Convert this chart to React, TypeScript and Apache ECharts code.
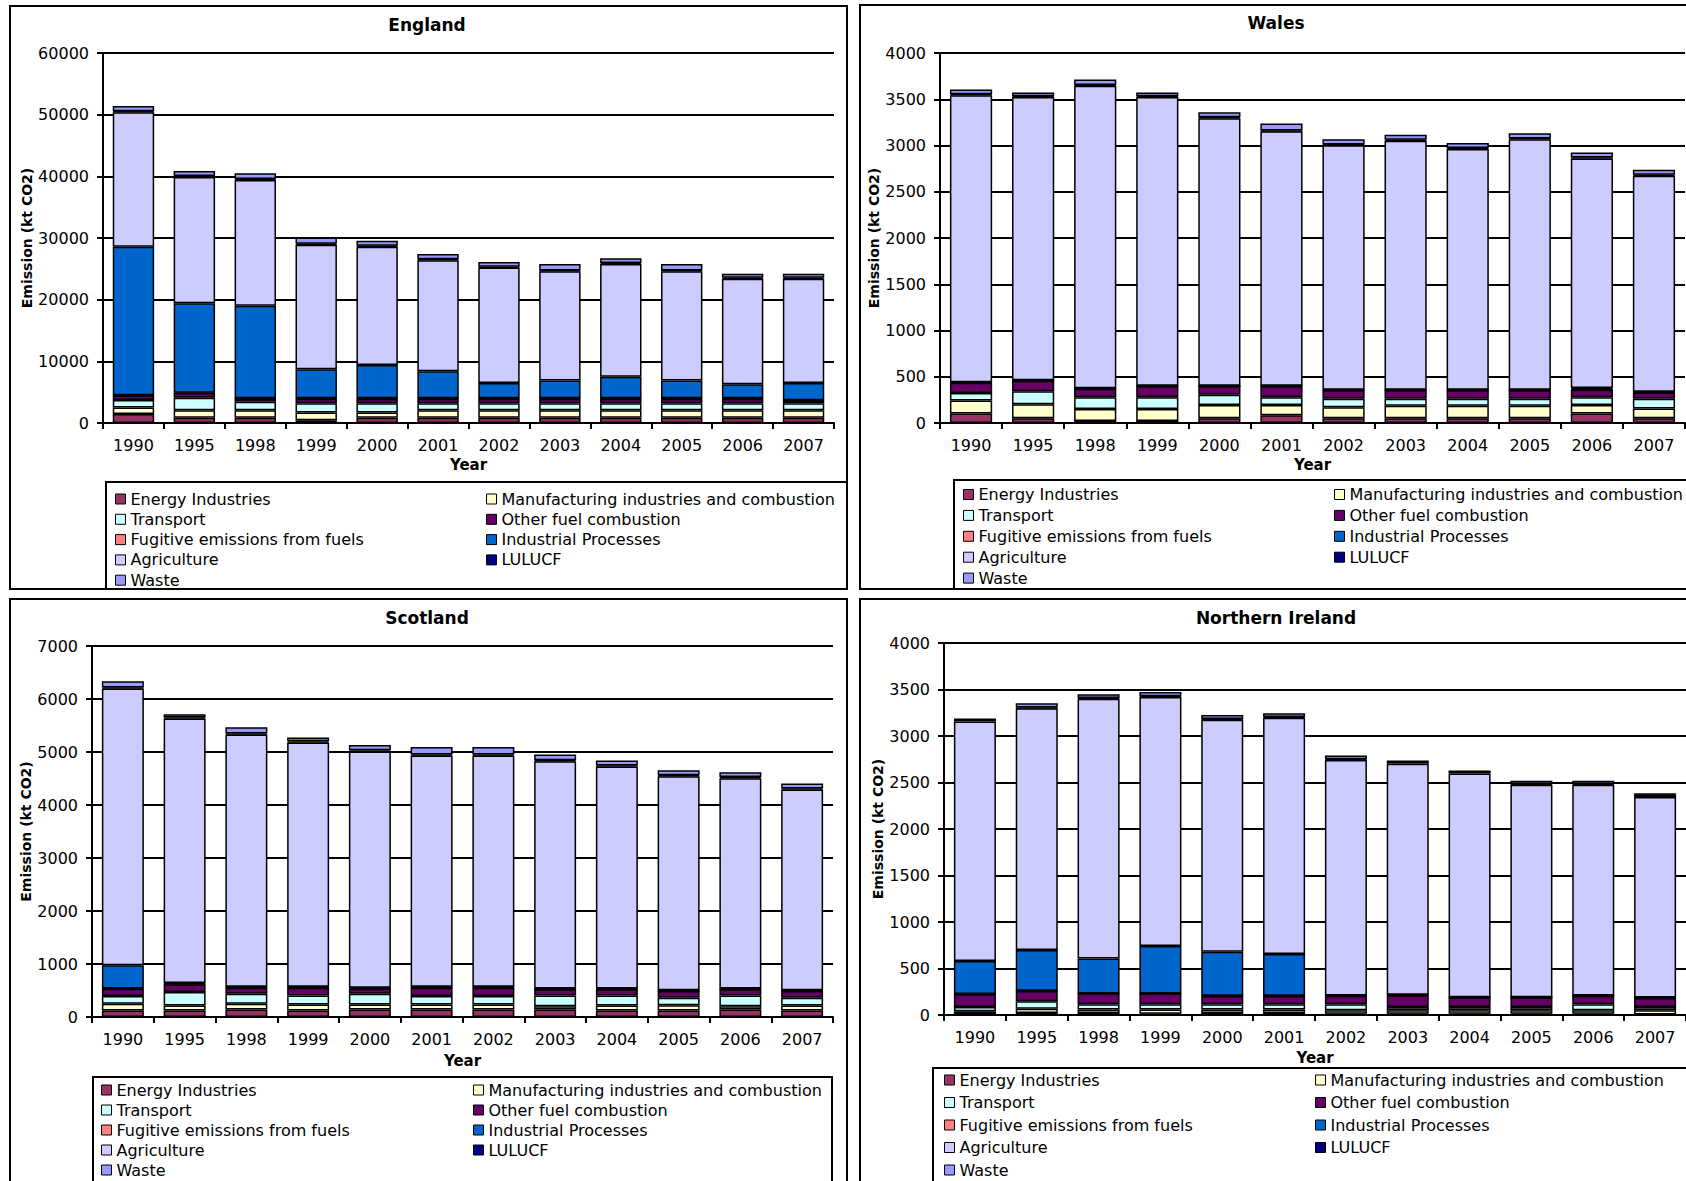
import React, { useEffect, useRef } from "react";
import * as echarts from "echarts";

const years = ["1990", "1995", "1998", "1999", "2000", "2001", "2002", "2003", "2004", "2005", "2006", "2007"];
const sectors = [
  "Energy Industries",
  "Manufacturing industries and combustion",
  "Transport",
  "Other fuel combustion",
  "Fugitive emissions from fuels",
  "Industrial Processes",
  "Agriculture",
  "LULUCF",
  "Waste",
];
const sectorColors = ["#993366", "#FFFFCC", "#CCFFFF", "#660066", "#FF8080", "#0066CC", "#CCCCFF", "#000080", "#9999FF"];
const legendCol1 = ["Energy Industries", "Transport", "Fugitive emissions from fuels", "Agriculture"];
const legendCol2 = ["Manufacturing industries and combustion", "Other fuel combustion", "Industrial Processes", "LULUCF"];
const legendLast = ["Waste"];

// England (kt CO2e)
const engEnergy = [1450, 860, 860, 430, 860, 860, 860, 860, 860, 860, 860, 860];
const engManufacturing = [1050, 1200, 1200, 1270, 840, 1190, 1190, 1190, 1190, 1190, 1190, 1190];
const engTransport = [1250, 2050, 1400, 1500, 1500, 1150, 1150, 1150, 1150, 1150, 1150, 1150];
const engOtherFuel = [700, 750, 500, 750, 750, 750, 750, 750, 750, 750, 750, 450];
const engFugitive = [50, 50, 50, 50, 50, 50, 50, 50, 50, 50, 50, 50];
const engIndustrial = [24100, 14500, 15000, 4700, 5400, 4400, 2500, 2900, 3500, 2900, 2300, 2800];
const engAgriculture = [21800, 20500, 20400, 20200, 19200, 18000, 18700, 17700, 18300, 17700, 17100, 16900];
const engLulucf = [150, 150, 150, 150, 150, 150, 150, 150, 150, 150, 150, 150];
const engWaste = [850, 800, 950, 1050, 800, 850, 750, 1050, 750, 1050, 650, 650];

// Wales
const walEnergy = [103, 51, 22, 22, 51, 85, 51, 51, 51, 51, 103, 51];
const walManufacturing = [140, 151, 129, 129, 144, 110, 118, 136, 136, 136, 92, 107];
const walTransport = [81, 140, 128, 128, 110, 84, 92, 74, 74, 74, 84, 103];
const walOtherFuel = [110, 114, 92, 118, 92, 118, 92, 92, 92, 92, 81, 70];
const walFugitive = [3, 3, 3, 3, 3, 3, 3, 3, 3, 3, 3, 3];
const walIndustrial = [3, 3, 3, 3, 3, 3, 3, 3, 3, 3, 15, 3];
const walAgriculture = [3103, 3061, 3268, 3120, 2892, 2750, 2643, 2692, 2603, 2708, 2482, 2336];
const walLulucf = [10, 10, 10, 10, 10, 10, 10, 10, 10, 10, 10, 10];
const walWaste = [52, 40, 59, 40, 55, 75, 55, 55, 55, 56, 55, 55];

// Scotland
const scoEnergy = [121, 121, 140, 121, 140, 140, 140, 140, 121, 121, 140, 121];
const scoManufacturing = [127, 96, 108, 115, 96, 96, 96, 64, 96, 102, 64, 96];
const scoTransport = [147, 254, 192, 172, 204, 159, 159, 204, 191, 140, 204, 146];
const scoOtherFuel = [140, 147, 114, 146, 95, 159, 159, 114, 114, 127, 114, 127];
const scoFugitive = [5, 5, 5, 5, 5, 5, 5, 5, 5, 5, 5, 5];
const scoIndustrial = [435, 20, 10, 10, 10, 10, 10, 10, 10, 10, 10, 10];
const scoAgriculture = [5223, 4987, 4761, 4612, 4461, 4363, 4363, 4289, 4189, 4036, 3969, 3788];
const scoLulucf = [20, 20, 20, 20, 20, 20, 20, 20, 20, 20, 20, 20];
const scoWaste = [115, 64, 115, 72, 100, 144, 144, 108, 94, 94, 94, 94];

// Northern Ireland
const niEnergy = [10, 22, 22, 14, 22, 22, 14, 14, 14, 14, 14, 5];
const niManufacturing = [30, 46, 36, 44, 36, 36, 36, 36, 36, 36, 36, 45];
const niTransport = [46, 79, 57, 57, 57, 57, 65, 36, 36, 36, 65, 36];
const niOtherFuel = [137, 112, 115, 115, 90, 90, 90, 126, 101, 101, 90, 97];
const niFugitive = [2, 2, 2, 2, 2, 2, 2, 2, 2, 2, 2, 2];
const niIndustrial = [355, 437, 376, 509, 473, 448, 3, 3, 3, 3, 3, 3];
const niAgriculture = [2576, 2600, 2792, 2679, 2496, 2542, 2532, 2485, 2405, 2283, 2265, 2157];
const niLulucf = [24, 8, 8, 8, 8, 8, 8, 25, 23, 8, 8, 30];
const niWaste = [2, 45, 40, 45, 41, 40, 41, 2, 2, 36, 36, 3];

const englandData = [engEnergy, engManufacturing, engTransport, engOtherFuel, engFugitive, engIndustrial, engAgriculture, engLulucf, engWaste];
const walesData = [walEnergy, walManufacturing, walTransport, walOtherFuel, walFugitive, walIndustrial, walAgriculture, walLulucf, walWaste];
const scotlandData = [scoEnergy, scoManufacturing, scoTransport, scoOtherFuel, scoFugitive, scoIndustrial, scoAgriculture, scoLulucf, scoWaste];
const niData = [niEnergy, niManufacturing, niTransport, niOtherFuel, niFugitive, niIndustrial, niAgriculture, niLulucf, niWaste];

const FONT = "DejaVu Sans";

const panels = [
  {
    title: "England", data: englandData, yMax: 60000, yInterval: 10000,
    grid: { left: 103, top: 53, width: 731, height: 370 },
    frame: { x: 10, y: 6, width: 837, height: 583 },
    titlePos: [427, 25], yNameGap: 63, xNameGap: 34,
    legendBox: { x: 106, y: 482, width: 741, height: 107 },
    legendLeft: [115, 486], legendTop: 491, legendGap: 4.3,
  },
  {
    title: "Wales", data: walesData, yMax: 4000, yInterval: 500,
    grid: { left: 940, top: 53, width: 745, height: 370 },
    frame: { x: 860, y: 5, width: 840, height: 584 },
    titlePos: [1276, 23], yNameGap: 50, xNameGap: 34,
    legendBox: { x: 954, y: 480, width: 760, height: 109 },
    legendLeft: [963, 1334], legendTop: 486.5, legendGap: 4.9,
  },
  {
    title: "Scotland", data: scotlandData, yMax: 7000, yInterval: 1000,
    grid: { left: 92, top: 646, width: 741, height: 371 },
    frame: { x: 10, y: 599, width: 837, height: 600 },
    titlePos: [427, 618], yNameGap: 51, xNameGap: 36,
    legendBox: { x: 93, y: 1077, width: 739, height: 120 },
    legendLeft: [101, 473], legendTop: 1082, legendGap: 4,
  },
  {
    title: "Northern Ireland", data: niData, yMax: 4000, yInterval: 500,
    grid: { left: 944, top: 643, width: 744, height: 372 },
    frame: { x: 860, y: 599, width: 840, height: 600 },
    titlePos: [1276, 618], yNameGap: 57, xNameGap: 35,
    legendBox: { x: 933, y: 1068, width: 770, height: 130 },
    legendLeft: [944, 1315], legendTop: 1072, legendGap: 6.5,
  },
];

function buildOption(): echarts.EChartsOption {
  const axisText = { fontFamily: FONT, fontSize: 16, color: "#000" };
  const blackLine = { color: "#000", width: 2 };

  const graphics: any[] = [];
  panels.forEach((p) => {
    graphics.push({
      type: "rect", shape: { ...p.frame }, silent: true, z: 0,
      style: { fill: "none", stroke: "#000", lineWidth: 2 },
    });
    graphics.push({
      type: "rect", shape: { ...p.legendBox }, silent: true, z: 0,
      style: { fill: "none", stroke: "#000", lineWidth: 2 },
    });
    graphics.push({
      type: "text", x: p.titlePos[0], y: p.titlePos[1], silent: true, z: 10,
      style: {
        text: p.title, fill: "#000", font: `bold 17px "${FONT}"`,
        align: "center", verticalAlign: "middle", textAlign: "center", textVerticalAlign: "middle",
      },
    });
  });

  const legends: any[] = [];
  panels.forEach((p) => {
    const rowStep = 16 + p.legendGap;
    const groups: [string[], number, number][] = [
      [legendCol1, p.legendLeft[0], p.legendTop],
      [legendCol2, p.legendLeft[1], p.legendTop],
      [legendLast, p.legendLeft[0], p.legendTop + 4 * rowStep],
    ];
    groups.forEach(([names, left, top]) => {
      legends.push({
        orient: "vertical", left, top, padding: 0,
        itemGap: p.legendGap, itemWidth: 10, itemHeight: 10, icon: "rect",
        selectedMode: false, data: names,
        itemStyle: { borderColor: "#000", borderWidth: 1 },
        textStyle: { fontFamily: FONT, fontSize: 16, lineHeight: 16, color: "#000" },
      });
    });
  });

  return {
    animation: false,
    backgroundColor: "#fff",
    graphic: { elements: graphics },
    legend: legends,
    grid: panels.map((p) => ({ ...p.grid, containLabel: false })),
    xAxis: panels.map((p, i) => ({
      type: "category", gridIndex: i, data: years,
      name: "Year", nameLocation: "middle", nameGap: p.xNameGap,
      nameTextStyle: { fontFamily: FONT, fontSize: 15, fontWeight: "bold", color: "#000" },
      axisLine: { show: true, lineStyle: blackLine },
      axisTick: { show: true, length: 6, interval: 0, lineStyle: blackLine },
      axisLabel: { ...axisText, interval: 0, margin: 14 },
      splitLine: { show: false },
    })),
    yAxis: panels.map((p, i) => ({
      type: "value", gridIndex: i, min: 0, max: p.yMax, interval: p.yInterval,
      name: "Emission (kt CO2)", nameLocation: "middle", nameGap: p.yNameGap, nameRotate: 90,
      nameTextStyle: { fontFamily: FONT, fontSize: 14, fontWeight: "bold", color: "#000" },
      axisLine: { show: true, lineStyle: blackLine },
      axisTick: { show: true, length: 6, lineStyle: blackLine },
      axisLabel: { ...axisText, margin: 14, formatter: (v: number) => String(v) },
      splitLine: { show: true, lineStyle: blackLine },
    })),
    series: panels.flatMap((p, i) =>
      sectors.map((name, k) => ({
        type: "bar" as const, name, xAxisIndex: i, yAxisIndex: i, stack: "s" + i,
        data: p.data[k], barCategoryGap: "32%",
        itemStyle: { color: sectorColors[k], borderColor: "#000", borderWidth: 1.5 },
        emphasis: { disabled: true },
      }))
    ),
  };
}

export default function App() {
  const ref = useRef<HTMLDivElement>(null);
  useEffect(() => {
    document.body.style.margin = "0";
    const chart = echarts.init(ref.current as HTMLDivElement, null, { renderer: "svg" });
    chart.setOption(buildOption());
    return () => chart.dispose();
  }, []);
  return <div ref={ref} style={{ width: 1686, height: 1181, background: "#fff", overflow: "hidden" }} />;
}
